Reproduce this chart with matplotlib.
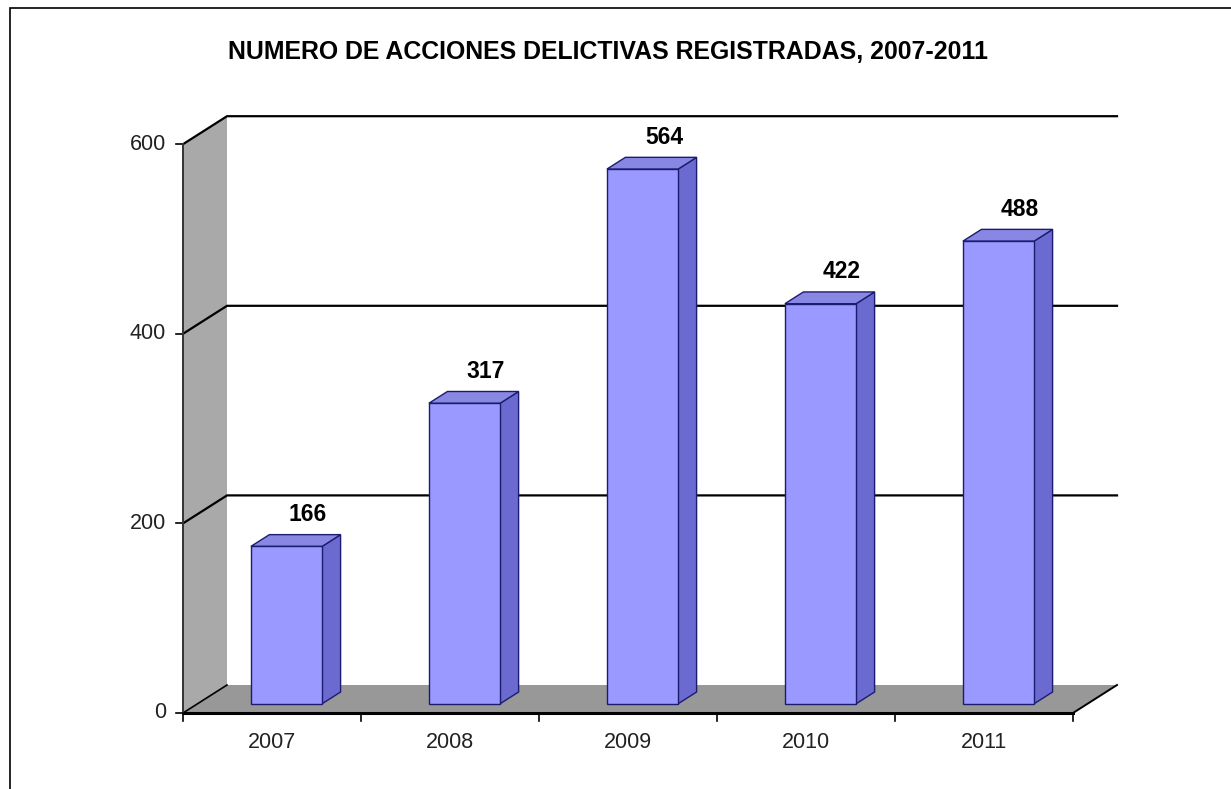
import matplotlib
matplotlib.use("Agg")
import matplotlib.pyplot as plt
from matplotlib.patches import Polygon, Rectangle

years = ["2007", "2008", "2009", "2010", "2011"]
values = [166, 317, 564, 422, 488]
yticks = [0, 200, 400, 600]
title = "NUMERO DE ACCIONES DELICTIVAS REGISTRADAS, 2007-2011"

plt.rcParams["font.family"] = ["Liberation Sans", "DejaVu Sans"]

# pseudo 3d: a point (x, v, t) with depth t in [0, 1]
DX = 44 / 178.0
DY = 28 / 0.948
XPX = 178.0      # px per category
YPX = 0.948      # px per unit


def P(x, v, t):
    return (x + t * DX, v + t * DY)


fig = plt.figure(figsize=(12.31, 7.89), dpi=100)
ax = fig.add_axes([0, 0, 1, 1])
ax.set_xlim(-183 / XPX, (1231 - 183) / XPX)
ax.set_ylim(-76 / YPX, 713 / YPX)
ax.axis("off")

n = len(years)
vmax = yticks[-1]

# walls
ax.add_patch(Polygon([P(0, 0, 0), P(0, vmax, 0), P(0, vmax, 1), P(0, 0, 1)],
                     closed=True, facecolor="#a9a9a9", edgecolor="none", zorder=1))
ax.add_patch(Polygon([P(0, 0, 0), P(n, 0, 0), P(n, 0, 1), P(0, 0, 1)],
                     closed=True, facecolor="#989898", edgecolor="none", zorder=1))

# gridlines (wall diagonal + back wall)
for v in yticks[1:]:
    xs, ys = zip(P(0, v, 0), P(0, v, 1), P(n, v, 1))
    ax.plot(xs, ys, color="black", lw=1.6, zorder=2)
    ax.plot([-7 / XPX, 0], [v, v], color="black", lw=1.2, zorder=2)
ax.plot([-7 / XPX, 0], [0, 0], color="black", lw=1.2, zorder=2)

# floor edges
xs, ys = zip(P(0, 0, 1), P(0, 0, 0))
ax.plot(xs, ys, color="black", lw=1.2, zorder=2)
xs, ys = zip(P(n, 0, 0), P(n, 0, 1))
ax.plot(xs, ys, color="black", lw=1.4, zorder=2)

# axes
ax.plot([0, n], [0, 0], color="black", lw=2.2, zorder=6)
ax.plot([0, 0], [0, vmax], color="#333333", lw=1.4, zorder=6)
for i in range(n + 1):
    ax.plot([i, i], [0, -8 / YPX], color="black", lw=1.2, zorder=6)

# bars
t0, t1 = 0.33, 0.75
for i, v in enumerate(values):
    x0, x1 = i + 0.3, i + 0.7
    front = [P(x0, 0, t0), P(x1, 0, t0), P(x1, v, t0), P(x0, v, t0)]
    side = [P(x1, 0, t0), P(x1, 0, t1), P(x1, v, t1), P(x1, v, t0)]
    top = [P(x0, v, t0), P(x1, v, t0), P(x1, v, t1), P(x0, v, t1)]
    ax.add_patch(Polygon(side, closed=True, facecolor="#6a6ad0",
                         edgecolor="#1c1c6e", lw=1.0, zorder=4))
    ax.add_patch(Polygon(top, closed=True, facecolor="#8888e4",
                         edgecolor="#1c1c6e", lw=1.0, zorder=4))
    ax.add_patch(Polygon(front, closed=True, facecolor="#9999ff",
                         edgecolor="#1c1c6e", lw=1.0, zorder=5))
    lx, ly = P(i + 0.5, v + 19, 0.82)
    ax.text(lx, ly, str(v), ha="center", va="center", fontsize=16.5,
            fontweight="bold", color="black", zorder=7)

# tick labels
for v in yticks:
    ax.text(-17 / XPX, v, str(v), ha="right", va="center", fontsize=15.5,
            color="#222222")
for i, y in enumerate(years):
    ax.text(i + 0.5, -30 / YPX, y, ha="center", va="center", fontsize=15.5,
            color="#222222")

fig.text(608 / 1231, 1 - 52 / 789, title, ha="center", va="center",
         fontsize=17.9, fontweight="bold")

# chart border
fig.add_artist(Rectangle((9.5 / 1231, -0.05), 1.2, 1 - 7.5 / 789 + 0.05,
                         transform=fig.transFigure, fill=False,
                         edgecolor="black", lw=1.2))

fig.savefig("out.png", dpi=100)
